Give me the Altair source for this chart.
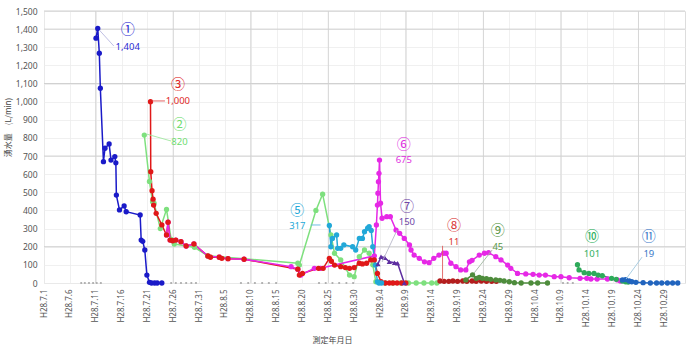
import altair as alt
import pandas as pd

# x = days elapsed since H28.7.1 (2016-07-01); y = 湧水量 (L/min)
s1_day = [10.06, 10.4, 10.7, 10.9, 11.5, 11.8, 12.6, 12.96, 13.7, 13.9, 14.0, 14.6, 15.5, 15.9,
          18.6, 18.8, 19.1, 19.5, 19.9, 20.4, 20.8, 21.4, 21.9, 22.8]
s1_val = [1350, 1404, 1267, 1074, 669, 743, 767, 678, 697, 663, 485, 403, 425, 393,
          375, 237, 230, 182, 44, 4, 0, 0, 0, 0]

s2_day = [19.4, 20.4, 21.0, 21.3, 22.5, 23.7, 24.6, 25.2, 29.1, 31.7, 49.1, 49.4, 52.6, 53.9,
          55.5, 56.2, 57.4, 59.1, 60.0, 61.0, 62.0, 62.9, 63.6, 64.2, 66.0, 67.5, 69.0, 70.5,
          72.0, 73.5, 75.0, 76.0]
s2_val = [816, 560, 448, 440, 300, 406, 240, 215, 197, 150, 109, 99, 400, 490,
          265, 164, 127, 44, 35, 145, 182, 164, 100, 7, 0, 0, 0, 0,
          0, 0, 0, 0]

s3_day = [20.6, 20.65, 20.9, 21.1, 21.2, 21.7, 22.8, 23.7, 24.0, 24.4, 24.9, 25.5, 26.5, 27.5,
          29.0, 31.7, 32.2, 33.9, 34.4, 35.6, 38.7, 49.1, 49.4, 50.0, 53.1, 54.0, 55.2, 55.6,
          56.2, 57.4, 58.3, 59.1, 60.0, 61.0, 61.6, 62.4, 63.2, 63.9, 64.5, 65.2, 66.0, 66.8,
          67.5, 68.3, 69.2, 70.0]
s3_val = [1000, 614, 509, 462, 430, 384, 320, 265, 335, 237, 233, 237, 228, 204,
          215, 149, 142, 142, 136, 134, 131, 76, 44, 53, 81, 81, 136, 120,
          99, 90, 85, 81, 85, 109, 105, 109, 127, 127, 53, 7, 0, 0,
          0, 0, 0, 0]

s5_day = [55.2, 55.5, 55.8, 56.6, 56.8, 57.4, 58.0, 59.7, 60.3, 61.0, 61.6, 62.0, 62.6, 62.9,
          63.3, 63.6, 64.1, 64.5, 64.8, 65.3]
s5_val = [317, 200, 246, 265, 191, 191, 210, 200, 182, 246, 246, 283, 302, 311,
          290, 200, 99, 7, 0, 0]

s6_day = [23.7, 24.0, 24.4, 24.9, 25.5, 26.5, 27.5, 29.0, 31.7, 33.9, 35.6, 38.7, 47.8, 49.1,
          49.7, 52.3, 53.5, 63.9, 64.3, 64.5, 64.6, 64.7, 64.8, 64.9, 65.1, 65.4, 66.3, 67.0,
          68.1, 68.8, 69.7, 70.7, 71.0, 71.6, 72.6, 73.6, 74.5, 75.4, 76.4, 77.3, 77.8, 78.7,
          79.7, 80.6, 81.6, 82.3, 82.8, 84.2, 85.2, 86.0, 87.4, 88.4, 89.7, 90.3, 91.6, 93.2,
          94.6, 95.8, 97.0, 98.7, 100.0, 101.6, 103.7, 105.0, 105.8, 107.0, 109.0, 110.9, 111.5]
s6_val = [265, 335, 237, 233, 237, 228, 204, 215, 149, 142, 134, 131, 90, 76,
          44, 81, 81, 150, 320, 430, 495, 559, 605, 678, 440, 357, 366, 366,
          292, 274, 246, 210, 182, 154, 136, 117, 112, 136, 154, 164, 164, 109,
          90, 72, 72, 117, 125, 154, 164, 167, 145, 127, 99, 81, 53, 50,
          48, 44, 44, 35, 35, 29, 26, 26, 22, 22, 22, 17, 11]

s7_day = [64.6, 65.2, 65.9, 66.8, 67.8, 68.4, 69.7]
s7_val = [105, 145, 140, 117, 112, 109, 0]

s8_day = [76.6, 77.4, 78.3, 79.1, 80.0, 81.0, 81.8, 82.8, 83.6, 84.6, 85.6, 86.6, 87.5]
s8_val = [11, 9, 9, 11, 9, 11, 9, 11, 9, 11, 9, 9, 9]

s9_day = [81.6, 82.9, 83.6, 84.2, 84.8, 85.6, 86.4, 87.4, 88.2, 89.0, 90.0, 91.0, 92.3,
          94.2, 95.5, 97.4]
s9_val = [17, 45, 26, 31, 26, 24, 20, 17, 15, 11, 7, 2, 0,
          0, 0, 0]

s10_day = [103.2, 103.5, 104.5, 105.4, 106.4, 107.2, 108.0, 109.8, 110.7, 111.9, 112.5, 113.0]
s10_val = [101, 72, 57, 53, 53, 44, 40, 26, 20, 11, 7, 5]

s11_day = [111.9, 112.5, 113.2, 113.7, 114.5, 115.9, 117.3, 118.5, 119.5, 120.6, 121.6, 122.6]
s11_val = [17, 19, 11, 7, 4, 2, 0, 0, 0, 0, 0, 0]

zero_day = [7.2, 7.9, 8.7, 9.5, 10.2, 11.0, 24.6, 25.5, 26.5, 27.5, 28.5, 29.4,
            38.1, 39.5, 40.8, 42.2, 43.5, 44.9, 53.2, 54.5, 55.8, 57.1, 58.5, 59.8,
            100.4, 101.3, 102.3]

# annotations
lab_mark = ["①", "③", "②", "⑤", "⑥", "⑦", "⑧", "⑨", "⑩", "⑪"]
lab_peak = ["1,404", "1,000", "820", "317", "675", "150", "11", "45", "101", "19"]
lab_day = [16.2, 25.9, 26.2, 49.0, 69.6, 70.2, 79.3, 87.8, 106.0, 117.0]
lab_v1 = [1395, 1092, 871, 397, 761, 419, 314, 287, 254, 254]
lab_v2 = [1300, 1004, 779, 314, 678, 336, 226, 199, 158, 158]
lab_col = ["#2a2ad2", "#e02828", "#70dd70", "#22a8d8", "#e030e0", "#7048a8", "#d83030",
           "#5a9848", "#30b060", "#3a78c8"]

con_d1 = [10.7, 20.9, 19.9, 51.6, 68.3, 77.1, 86.7, 115.7]
con_v1 = [1395, 1004, 821, 320, 292, 205, 182, 143]
con_d2 = [13.5, 23.4, 24.6, 53.5, 65.4, 77.1, 83.2, 112.6]
con_v2 = [1307, 1004, 783, 320, 116, 14, 55, 22]
con_col = ["#b8b8e0", "#e05050", "#a0e8a0", "#60b8e0", "#b8b8c8", "#e06060", "#a0b8a0", "#a0c8e0"]

series = [
    ("1", s1_day, s1_val, "#1a1ac8", "circle"),
    ("2", s2_day, s2_val, "#7ee07e", "circle"),
    ("3", s3_day, s3_val, "#e01818", "circle"),
    ("6", s6_day, s6_val, "#e628e6", "circle"),
    ("5", s5_day, s5_val, "#22a8d8", "circle"),
    ("7", s7_day, s7_val, "#5e2ea0", "triangle-up"),
    ("8", s8_day, s8_val, "#b41e1e", "circle"),
    ("9", s9_day, s9_val, "#4e8c3c", "circle"),
    ("10", s10_day, s10_val, "#2eaa5a", "circle"),
    ("11", s11_day, s11_val, "#2164be", "circle"),
]
point_order = ["6", "1", "2", "3", "5", "7", "8", "9", "10", "11"]

xs = alt.Scale(domain=[0, 124], nice=False, zero=False)
ys = alt.Scale(domain=[0, 1500], nice=False)

label_expr = ("'H28.' + (month(datetime(2016,6,1+datum.value))+1) + '.' + "
              "date(datetime(2016,6,1+datum.value))")

x_axis = alt.Axis(values=list(range(0, 121, 5)), labelExpr=label_expr, labelAngle=270,
                  labelFontSize=8, labelColor="#555555", labelFont="Noto Sans",
                  labelOverlap=False, labelBound=False, grid=True, gridColor="#ececec",
                  gridWidth=0.8, domain=False, ticks=False, labelPadding=6,
                  title="測定年月日", titleFont="Noto Sans CJK JP", titleFontSize=8,
                  titleFontWeight="normal", titleColor="#444444", titleX=288, titleY=57,
                  titleBaseline="middle", titleAlign="center")
y_axis = alt.Axis(values=list(range(0, 1501, 100)), format=",.0f", labelFontSize=8.5,
                  labelColor="#555555", labelFont="Noto Sans", grid=True,
                  gridColor="#ececec", gridWidth=0.8, domain=False, ticks=False,
                  labelPadding=7, title="湧水量　(L/min)", titleFont="Noto Sans CJK JP",
                  titleFontSize=8, titleFontWeight="normal", titleColor="#444444",
                  titleX=-36, titleY=116, titleAngle=270, titleAlign="center",
                  titleBaseline="middle")


def X(field):
    return alt.X(field, type="quantitative", scale=xs, axis=x_axis)


def Y(field):
    return alt.Y(field, type="quantitative", scale=ys, axis=y_axis)


layers = []

# stronger grid lines
vgrid = pd.DataFrame({"d": [10, 25, 40, 55, 70, 85, 100, 115]})
hgrid = pd.DataFrame({"v": [200, 700, 1100, 1400, 1500]})
layers.append(alt.Chart(vgrid).mark_rule(color="#d6d6d6", strokeWidth=1).encode(x=X("d")))
layers.append(alt.Chart(hgrid).mark_rule(color="#d0d0d0", strokeWidth=1).encode(y=Y("v")))

# gray zero markers
zdf = pd.DataFrame({"d": zero_day, "v": [0] * len(zero_day)})
layers.append(alt.Chart(zdf).mark_point(filled=True, size=5, color="#aaaaaa", opacity=1)
              .encode(x=X("d"), y=Y("v")))

frames = {}
for name, d, v, col, shape in series:
    df = pd.DataFrame({"d": d, "v": v, "i": list(range(len(d)))})
    frames[name] = (df, col, shape)
    layers.append(alt.Chart(df).mark_line(color=col, strokeWidth=1.5)
                  .encode(x=X("d"), y=Y("v"), order="i:Q"))

for name in point_order:
    df, col, shape = frames[name]
    layers.append(alt.Chart(df).mark_point(filled=True, size=28, color=col, opacity=1,
                                           shape=shape)
                  .encode(x=X("d"), y=Y("v")))

# connectors
cdf = pd.DataFrame({"d1": con_d1, "v1": con_v1, "d2": con_d2, "v2": con_v2, "c": con_col})
layers.append(alt.Chart(cdf).mark_rule(strokeWidth=0.9).encode(
    x=X("d1"), y=Y("v1"), x2="d2", y2="v2", color=alt.Color("c:N", scale=None)))

ldf = pd.DataFrame({"d": lab_day, "v1": lab_v1, "v2": lab_v2, "m": lab_mark,
                    "p": lab_peak, "c": lab_col})
layers.append(alt.Chart(ldf).mark_text(font="Noto Sans CJK JP", fontSize=14,
                                       baseline="middle", align="center").encode(
    x=X("d"), y=Y("v1"), text="m:N", color=alt.Color("c:N", scale=None)))
layers.append(alt.Chart(ldf).mark_text(font="Noto Sans", fontSize=9.5,
                                       baseline="middle", align="center").encode(
    x=X("d"), y=Y("v2"), text="p:N", color=alt.Color("c:N", scale=None)))

chart = alt.layer(*layers).properties(
    width=641, height=272,
    autosize=alt.AutoSizeParams(type="none"),
    padding={"left": 44, "top": 11, "right": 7, "bottom": 67},
).configure_view(stroke=None).configure(background="white")

chart.save("out.html", embed_options={"renderer": "svg", "actions": False})
